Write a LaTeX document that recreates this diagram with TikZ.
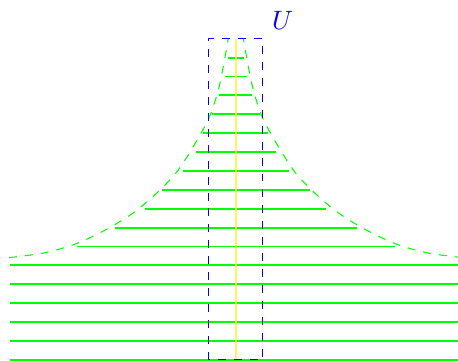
\documentclass[tikz,border=0pt]{standalone}
\begin{document}
\begin{tikzpicture}[
  slice/.style={green,line width=0.7pt},
  horn/.style={green,dashed},
  nbhd/.style={blue,dashed}]
\useasboundingbox (-3.12,-0.013) rectangle (2.94,4.762);
% horizontal slices
\foreach \k in {0,...,5}
  \draw[slice] (-2.99,\k*0.25) -- (2.94,\k*0.25);
\foreach \k/\w in {6/2.10,7/1.60,8/1.20,9/0.98,10/0.70,11/0.53,12/0.43,13/0.32,14/0.22,15/0.146,16/0.102}
  \draw[slice] (-\w,\k*0.25) -- (\w,\k*0.25);
% boundary of the horn
\foreach \s in {-1,1}
  \draw[horn,xscale=\s] plot[smooth] coordinates {(3.00,1.353) (2.54,1.415) (2.13,1.53)
    (1.75,1.706) (1.376,1.931) (1.058,2.196) (0.78,2.487) (0.542,2.857) (0.344,3.228)
    (0.212,3.651) (0.1,4.25)};
% neighbourhood U
\coordinate (sw) at (-0.357,0);
\coordinate (ne) at (0.357,4.25);
\draw[yellow!65,line width=0.7pt] (0,0) -- (0,4.25);
\draw[nbhd] (sw) rectangle (ne);
\node[blue,above right] (U) at (ne) {$U$};
\end{tikzpicture}
\end{document}
